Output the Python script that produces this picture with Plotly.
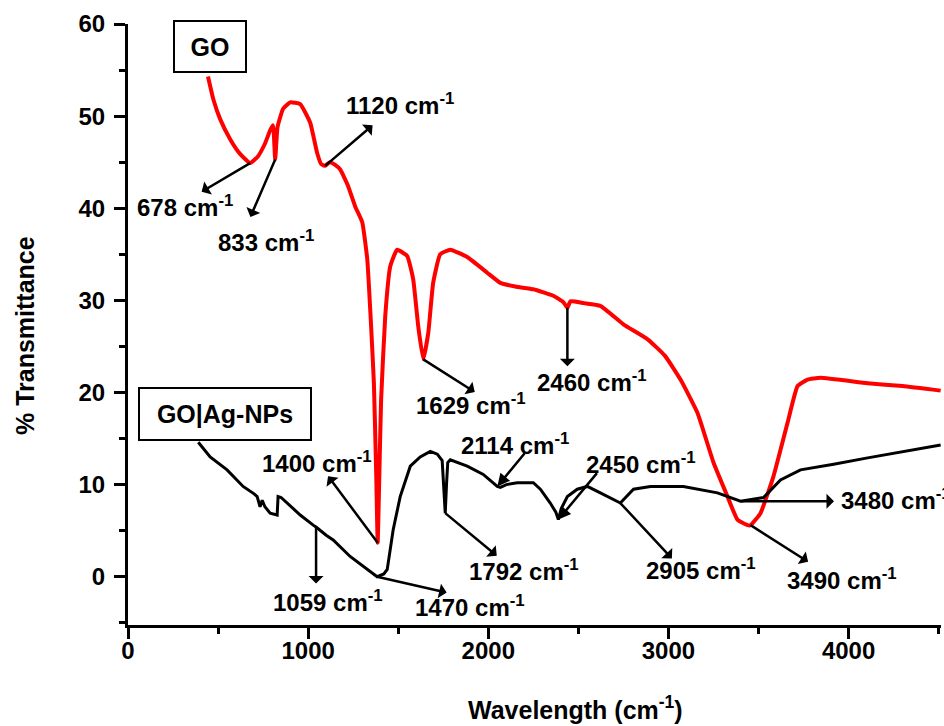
import numpy as np
import plotly.graph_objects as go

# FTIR spectrum of graphene oxide (GO)
go_wn = [444, 474, 511, 567, 622, 678, 720, 760, 790,
         805, 817, 830, 861, 900, 956, 1011, 1050, 1072,
         1094, 1120, 1150, 1178, 1220, 1261, 1300, 1328, 1350, 1365,
         1378, 1386, 1394, 1405, 1428, 1456, 1494, 1550, 1583, 1611,
         1639, 1667, 1694, 1733, 1789, 1883, 1994, 2067, 2150, 2250,
         2361, 2417, 2439, 2456, 2530, 2622, 2750, 2883, 2980, 3067,
         3161, 3250, 3328, 3383, 3439, 3456, 3511, 3583, 3661, 3717,
         3772, 3844, 4106, 4300, 4511]
go_t = [54.3, 51.8, 49.7, 47.5, 45.9, 44.9, 45.6, 47.0, 48.5,
        49.0, 45.3, 48.8, 50.8, 51.5, 51.3, 49.3, 46.0, 44.8,
        44.6, 45.0, 44.7, 44.2, 42.5, 40.2, 38.5, 34.5, 27.0, 21.0,
        11.0, 3.7, 10.0, 19.2, 28.3, 33.7, 35.5, 34.8, 32.3, 27.2,
        23.6, 26.5, 31.9, 35.0, 35.5, 34.7, 33.0, 31.9, 31.5, 31.2,
        30.5, 29.8, 29.2, 29.9, 29.7, 29.4, 27.4, 25.8, 24.0, 21.4,
        17.8, 12.4, 8.7, 6.2, 5.6, 5.6, 6.9, 10.9, 16.7, 20.7,
        21.4, 21.6, 21.0, 20.7, 20.2]

# FTIR spectrum of GO decorated with silver nanoparticles
ag_wn = [390, 456, 550, 639, 700, 717, 733, 745, 760, 789,
         828, 833, 850, 883, 956, 1028, 1044, 1100, 1139, 1233,
         1300, 1383, 1420, 1439, 1472, 1511, 1567, 1622, 1678, 1717,
         1744, 1752, 1761, 1768, 1775, 1789, 1883, 1972, 2028, 2050,
         2067, 2100, 2161, 2250, 2289, 2344, 2375, 2389, 2405, 2439,
         2494, 2550, 2622, 2700, 2733, 2806, 2900, 3083, 3272, 3400,
         3528, 3622, 3733, 3917, 4106, 4511]
ag_t = [14.6, 13.0, 11.6, 9.8, 9.0, 8.7, 7.6, 8.3, 7.6, 6.9,
        6.7, 8.7, 8.6, 8.0, 6.7, 5.6, 5.4, 4.5, 4.0, 2.2,
        1.2, 0.0, 0.3, 0.8, 5.1, 8.7, 12.0, 13.0, 13.6, 13.3,
        12.6, 9.5, 6.9, 10.0, 12.4, 12.7, 12.0, 11.1, 10.2, 9.8,
        9.7, 10.0, 10.2, 10.2, 9.5, 8.0, 7.0, 6.2, 7.4, 8.7,
        9.5, 9.8, 9.1, 8.3, 8.0, 9.5, 9.8, 9.8, 9.1, 8.2,
        8.6, 10.5, 11.6, 12.2, 12.9, 14.3]

# Band labels and the wavenumber on each curve where its arrow sits
go_bands = ["678", "833", "1120", "1400", "1629", "2460", "3490"]
go_band_wn = [678, 817, 1094, 1386, 1639, 2439, 3456]
ag_bands = ["1059", "1470", "1792", "2114", "2450", "2905", "3480"]
ag_band_wn = [1044, 1383, 1761, 2050, 2389, 2733, 3400]

x_ticks = [0, 1000, 2000, 3000, 4000]
y_ticks = [0, 10, 20, 30, 40, 50, 60]

assert len(go_wn) == len(go_t) and len(ag_wn) == len(ag_t)

FONT = "Liberation Sans, Arial, sans-serif"
label_font = dict(family=FONT, size=24, color="black", weight="bold")
title_font = dict(family=FONT, size=25, color="black", weight="bold")

# Arrow geometry per band (pixels): arrow offset, label offset, arrow pointing out of the curve?
band_style = {
    "678": ((-49, 29), (-65, 43), True),
    "833": ((-25, 58), (-9, 82), True),
    "1120": ((48, -41), (75, -62), True),
    "1400": ((-50, -67), (-61, -81), True),
    "1629": ((52, 33), (48, 45), True),
    "2460": ((0, 59), (25, 73), True),
    "3490": ((58, 37), (91, 54), True),
    "1059": ((0, 57), (12, 74), True),
    "1470": ((70, 16), (93, 29), True),
    "1792": ((52, 43), (79, 57), True),
    "2114": ((28, -34), (18, -42), False),
    "2450": ((39, -47), (83, -57), False),
    "2905": ((52, 56), (81, 66), True),
    "3480": ((94, 0), (98, -2), True),
}

fig = go.Figure()
fig.add_trace(go.Scatter(x=go_wn, y=go_t, mode="lines", name="GO",
                         line=dict(color="#ff0000", width=4, shape="spline", smoothing=0.4)))
fig.add_trace(go.Scatter(x=ag_wn, y=ag_t, mode="lines", name="GO|Ag-NPs",
                         line=dict(color="black", width=3)))


def add_band(label, wn, cx, cy):
    (dx, dy), (lx, ly), outward = band_style[label]
    yv = float(np.interp(wn, cx, cy))
    fig.add_annotation(x=wn, y=yv, ax=dx, ay=dy, text="", showarrow=True,
                       arrowhead=2, arrowsize=1, arrowwidth=2.5, arrowcolor="black",
                       arrowside="start" if outward else "end",
                       standoff=0, startstandoff=0, borderpad=0,
                       font=dict(size=1))
    fig.add_annotation(x=wn, y=yv, text=f"{label} cm<sup>-1</sup>", showarrow=False,
                       xshift=lx, yshift=-ly,
                       xanchor="left" if label == "3480" else "center",
                       yanchor="middle", font=label_font)


for lab, wn in zip(go_bands, go_band_wn):
    add_band(lab, wn, go_wn, go_t)
for lab, wn in zip(ag_bands, ag_band_wn):
    add_band(lab, wn, ag_wn, ag_t)

# Sample name boxes
fig.add_annotation(xref="paper", yref="paper", x=0.1009, y=0.9626, text="GO",
                   xanchor="center", yanchor="middle",
                   showarrow=False, width=70, height=49, borderpad=0,
                   bordercolor="black", borderwidth=2, bgcolor="white",
                   font=title_font)
fig.add_annotation(xref="paper", yref="paper", x=0.1193, y=0.3511, text="GO|Ag-NPs",
                   xanchor="center", yanchor="middle",
                   showarrow=False, width=170, height=50, borderpad=0,
                   bordercolor="black", borderwidth=2, bgcolor="white",
                   font=title_font)

# Axis titles
fig.add_annotation(xref="paper", yref="paper", x=0.551, y=-0.138,
                   text="Wavelength (cm<sup>-1</sup>)", showarrow=False,
                   xanchor="center", yanchor="middle", font=title_font)
fig.add_annotation(xref="paper", yref="paper", x=-0.1267, y=0.4825,
                   text="% Transmittance", showarrow=False, textangle=-90,
                   xanchor="center", yanchor="middle", font=title_font)

axis_common = dict(showline=True, linewidth=3, linecolor="black", showgrid=False,
                   zeroline=False, ticks="outside", ticklen=11, tickwidth=3,
                   tickcolor="black",
                   tickfont=dict(family=FONT, size=24, color="black", weight="bold"))

fig.update_xaxes(range=[0, 4513], tickmode="array", tickvals=x_ticks,
                 ticktext=[str(v) for v in x_ticks], ticklabelstandoff=-9,
                 minor=dict(tickmode="linear", tick0=0, dtick=500, ticks="outside",
                            ticklen=6, tickwidth=3, tickcolor="black"),
                 **axis_common)
fig.update_yaxes(range=[-5.24, 60], tickmode="array", tickvals=y_ticks,
                 ticktext=[str(v) for v in y_ticks], ticklabelstandoff=4,
                 minor=dict(tickmode="linear", tick0=0, dtick=5, ticks="outside",
                            ticklen=6, tickwidth=3, tickcolor="black"),
                 **axis_common)

fig.update_layout(width=944, height=726, margin=dict(l=128, r=3, t=24, b=101),
                  plot_bgcolor="white", paper_bgcolor="white", showlegend=False,
                  font=dict(family=FONT, color="black"))

fig.write_html("out.html")
